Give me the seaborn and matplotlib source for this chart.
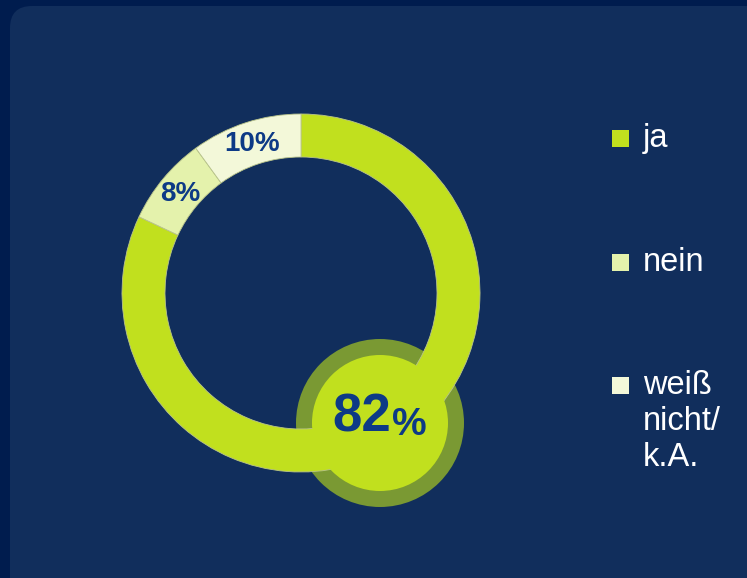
import matplotlib
matplotlib.use("Agg")
import matplotlib.pyplot as plt
import seaborn as sns
from matplotlib.patches import FancyBboxPatch, Circle, Rectangle

# Daten
kategorien = ["ja", "nein", "weiß\nnicht/\nk.A."]
werte = [82, 8, 10]
farben = ["#c1e01e", "#e4f2ac", "#f3f8d9"]
highlight_wert = 82

sns.set_style("white")
plt.rcParams['font.family'] = ['Liberation Sans', 'DejaVu Sans']

W, H = 747, 578
fig = plt.figure(figsize=(W / 100, H / 100), dpi=100)
fig.patch.set_facecolor("#001c4e")
ax = fig.add_axes([0, 0, 1, 1])
ax.set_xlim(0, W)
ax.set_ylim(0, H)
ax.set_aspect("equal")
ax.axis("off")

# Hintergrund-Panel
panel = FancyBboxPatch((10, -30), W + 20 - 10, H + 30 - 6,
                       boxstyle="round,pad=0,rounding_size=22",
                       facecolor="#112e5c", edgecolor="none", zorder=0)
ax.add_patch(panel)

# Badge hinten (olivgruen)
cx_b, cy_b = 380, H - 423
ax.add_patch(Circle((cx_b, cy_b), 84, facecolor="#7a9933", edgecolor="none", zorder=1))

# Donut
cx, cy = 301, H - 293
wedges, _ = ax.pie(werte, colors=farben, startangle=90, counterclock=False,
                   center=(cx, cy), radius=179, frame=True,
                   wedgeprops=dict(width=43, edgecolor="#b9c48a", linewidth=0.6))
for w in wedges:
    w.set_zorder(2)
ax.set_xlim(0, W)
ax.set_ylim(0, H)
ax.axis("off")

# Prozent-Labels im Ring
ax.text(252, H - 144, f"{werte[2]}%", ha="center", va="center", fontsize=20,
        fontweight="bold", color="#0d3a86", zorder=3)
ax.text(180, H - 194, f"{werte[1]}%", ha="center", va="center", fontsize=20,
        fontweight="bold", color="#0d3a86", zorder=3)

# Badge vorne
ax.add_patch(Circle((cx_b, cy_b), 68, facecolor="#c1e01e", edgecolor="none", zorder=3))
ax.text(391, H - 432, f"{highlight_wert}", ha="right", va="baseline", fontsize=38,
        fontweight="bold", color="#0d3a86", zorder=4)
ax.text(392, H - 435, "%", ha="left", va="baseline", fontsize=28,
        fontweight="bold", color="#0d3a86", zorder=4)

# Legende
legend_y = [138, 262, 385]
for lab, col, y in zip(kategorien, farben, legend_y):
    ax.add_patch(Rectangle((612, H - y - 8.5), 17, 17, facecolor=col, edgecolor="none", zorder=3))
    ax.text(643, H - y + 15, lab, ha="left", va="top", fontsize=23.5, color="white",
            linespacing=1.2, zorder=3)

fig.savefig("out.png", dpi=100, facecolor=fig.get_facecolor())
